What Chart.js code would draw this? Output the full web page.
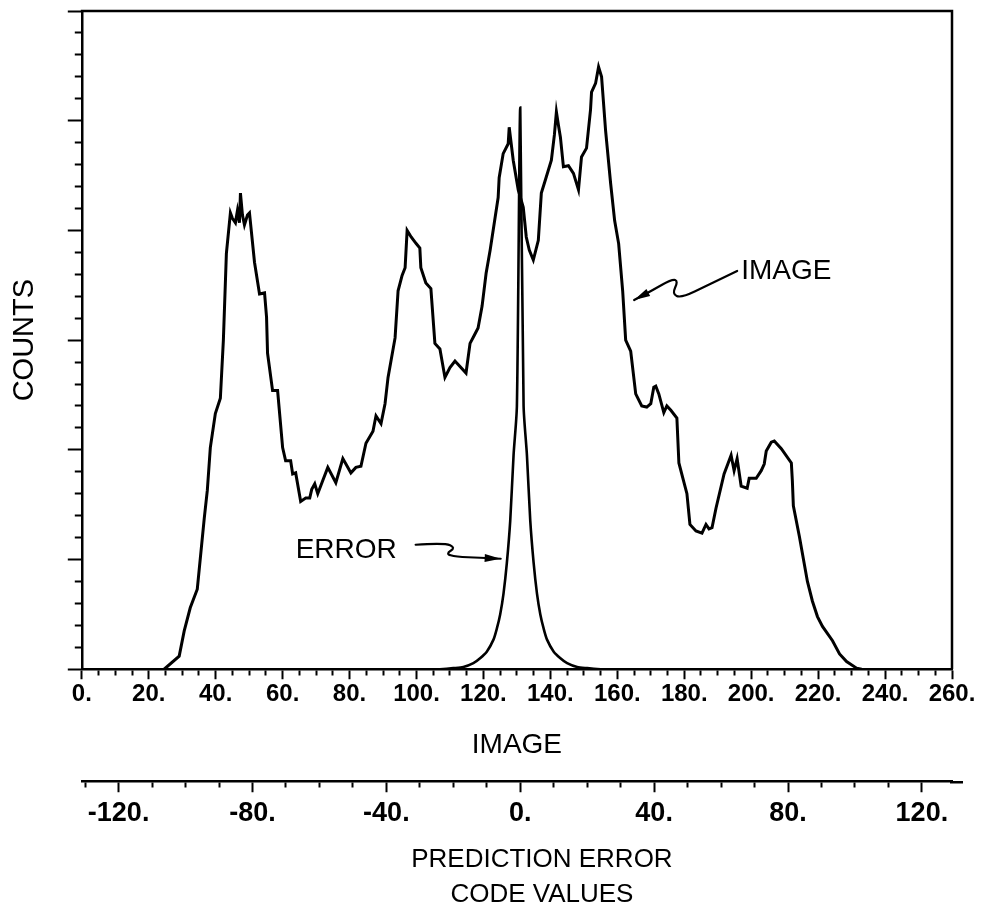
<!DOCTYPE html>
<html><head><meta charset="utf-8">
<script src="https://cdn.jsdelivr.net/npm/chart.js@4/dist/chart.umd.min.js"></script>
<style>html,body{margin:0;padding:0;background:#fff;}canvas{display:block;}</style>
</head><body>
<canvas id="c" width="984" height="915"></canvas>
<script>
// IMAGE histogram: code value vs counts (counts in arbitrary units, 100 per major tick)
const imageValues = [24.6,29.1,30.6,32.4,34.5,36.6,37.5,38.4,39.9,41.4,42.3,43.2,44.4,45.0,45.9,46.5,47.1,47.4,48.0,48.6,49.5,50.1,51.6,53.1,54.6,55.2,55.5,57.0,58.5,60.0,60.9,62.4,63.0,63.9,65.4,66.9,68.1,68.7,69.6,70.5,72.0,73.5,75.9,78.0,79.5,80.4,81.9,83.4,84.9,87.0,87.9,89.4,90.6,91.5,93.6,94.5,95.7,96.6,97.2,98.4,99.9,101.0,101.3,102.8,104.3,105.5,107.0,108.5,110.0,111.5,113.0,114.8,116.0,117.2,118.4,119.6,120.8,122.0,123.5,124.4,124.7,125.9,127.4,127.7,128.9,130.4,131.9,132.8,133.7,134.9,136.4,137.3,138.5,140.3,141.2,141.8,142.4,143.0,143.9,145.4,146.9,148.4,149.3,150.8,152.0,152.3,153.5,154.4,155.3,156.5,158.0,159.2,160.4,161.6,162.5,164.0,165.5,167.3,168.8,170.0,170.9,171.5,172.4,173.9,174.8,176.0,177.8,178.4,179.6,180.8,181.7,183.5,185.3,186.5,187.4,188.3,189.5,191.9,194.0,194.9,195.8,197.0,198.8,199.4,201.5,203.0,203.9,204.5,206.0,206.9,209.0,212.0,212.3,212.6,214.4,216.8,218.3,219.8,221.3,224.3,226.4,228.5,231.5,233.0];
const imageCounts = [0,12,35,56,73,138,163,202,233,247,300,379,416,411,407,418,407,434,414,405,414,416,371,342,343,321,288,254,254,202,190,190,178,179,153,156,156,164,169,160,172,184,170,192,184,179,184,185,206,217,231,224,242,266,302,345,359,366,400,394,388,384,366,352,347,297,292,266,275,281,276,270,297,304,311,331,361,382,412,430,448,470,479,494,464,437,421,394,382,373,391,434,446,464,487,508,496,485,458,459,452,437,467,475,510,526,534,549,540,491,443,409,388,345,300,290,251,240,239,242,257,258,251,234,240,236,229,188,174,160,132,126,124,132,128,129,147,178,195,181,192,167,165,174,174,181,187,199,207,208,201,188,172,149,121,80,62,48,39,26,14,7,1,0];

// ERROR histogram: prediction error code value vs counts
const errorValues = [-24,-20,-17,-14,-12,-10,-8,-7,-6,-5,-4,-3,-2,-1,0,1,2,3,4,5,6,7,8,10,12,14,17,20,24];
const errorCounts = [0,1,2,5.5,10,16,27,37,50,69,97,135,195,240,512,240,195,135,97,69,50,37,27,16,10,5.5,2,1,0];

// Axis ranges / tick steps
const imageRange = [0, 260];
const imageMinorStep = 5, imageMajorStep = 20;
const errorRange = [-131, 129];
const errorMinorStep = 10, errorMajorStep = 40;
const countRange = [0, 600];
const countMinorStep = 20, countMajorStep = 100;
const errorTitle = ['PREDICTION ERROR', 'CODE VALUES'];

// Annotation labels (anchors in data units)
const imageLabel = {text: 'IMAGE', x: 197, y: 363};
const errorLabel = {text: 'ERROR', x: 63.9, y: 108};

const tickFont = "'Liberation Sans', Arial, sans-serif";
const titleFont = "'Liberation Sans', Arial, sans-serif";
const isMult = (v, s) => Math.abs(v / s - Math.round(v / s)) < 1e-6;
function stepTicks(lo, hi, step) {
  const out = [];
  for (let v = Math.ceil(lo / step) * step; v <= hi + 1e-9; v += step) out.push({value: v});
  return out;
}

function squiggle(ctx, x0, y0, pts) {
  ctx.beginPath();
  ctx.moveTo(x0 + pts[0][0], y0 + pts[0][1]);
  for (let i = 1; i < pts.length - 1; i++) {
    const mx = (pts[i][0] + pts[i + 1][0]) / 2, my = (pts[i][1] + pts[i + 1][1]) / 2;
    ctx.quadraticCurveTo(x0 + pts[i][0], y0 + pts[i][1], x0 + mx, y0 + my);
  }
  const last = pts[pts.length - 1], prev = pts[pts.length - 2];
  ctx.lineTo(x0 + last[0], y0 + last[1]);
  ctx.stroke();
  const ang = Math.atan2(last[1] - prev[1], last[0] - prev[0]);
  const L = 16, W = 4;
  const tx = x0 + last[0], ty = y0 + last[1];
  ctx.beginPath();
  ctx.moveTo(tx, ty);
  ctx.lineTo(tx - L * Math.cos(ang) + W * Math.sin(ang), ty - L * Math.sin(ang) - W * Math.cos(ang));
  ctx.lineTo(tx - L * Math.cos(ang) - W * Math.sin(ang), ty - L * Math.sin(ang) + W * Math.cos(ang));
  ctx.closePath();
  ctx.fill();
}

const framePlugin = {
  id: 'frame',
  afterDraw(chart) {
    const {ctx, chartArea: {left, right, top, bottom}, scales} = chart;
    ctx.save();
    ctx.strokeStyle = '#000';
    ctx.fillStyle = '#000';
    ctx.lineWidth = 2.5;
    ctx.beginPath();
    ctx.moveTo(left - 1, top);
    ctx.lineTo(right, top);
    ctx.lineTo(right, bottom);
    ctx.stroke();
    // extend error axis line a little to the right
    const x2 = scales.x2;
    ctx.beginPath();
    ctx.moveTo(x2.right - 2, x2.top + 1);
    ctx.lineTo(x2.right + 11, x2.top + 1);
    ctx.stroke();
    // error-axis title (drawn offset to the right like the original)
    ctx.font = "26px " + titleFont;
    ctx.textAlign = 'center';
    ctx.textBaseline = 'middle';
    const tcx = (x2.left + x2.right) / 2 + 25;
    const lh = 26 * 1.35;
    const tBottom = x2.bottom - 3;
    errorTitle.forEach((t, i) => {
      ctx.fillText(t, tcx, tBottom - lh * (errorTitle.length - i - 0.5));
    });
    // annotations
    ctx.font = "28px " + titleFont;
    ctx.textAlign = 'left';
    const ix = scales.x.getPixelForValue(imageLabel.x), iy = scales.y.getPixelForValue(imageLabel.y);
    ctx.fillText(imageLabel.text, ix, iy);
    ctx.lineWidth = 2.2;
    ctx.lineJoin = 'round';
    ctx.lineCap = 'round';
    squiggle(ctx, ix, iy, [[-4,0],[-33,14],[-60,27],[-69,23],[-63,10],[-69,8],[-90,20],[-107,29]]);
    const ex = scales.x.getPixelForValue(errorLabel.x), ey = scales.y.getPixelForValue(errorLabel.y);
    ctx.fillText(errorLabel.text, ex, ey);
    squiggle(ctx, ex, ey, [[120,-6],[149,-8],[160,-3],[150,3],[160,6],[185,7],[205,8]]);
    ctx.restore();
  }
};

new Chart(document.getElementById('c'), {
  type: 'line',
  data: {
    datasets: [
      {label: 'IMAGE', data: imageValues.map((v, i) => ({x: v, y: imageCounts[i]})),
       xAxisID: 'x', yAxisID: 'y', borderColor: '#000', borderWidth: 3, pointRadius: 0, tension: 0, fill: false},
      {label: 'ERROR', data: errorValues.map((v, i) => ({x: v, y: errorCounts[i]})),
       xAxisID: 'x2', yAxisID: 'y', borderColor: '#000', borderWidth: 2.6, pointRadius: 0, tension: 0.25, fill: false}
    ]
  },
  options: {
    responsive: false,
    animation: false,
    devicePixelRatio: 1,
    layout: {padding: {left: 8, right: 32, top: 11, bottom: 0}},
    plugins: {legend: {display: false}, tooltip: {enabled: false}},
    scales: {
      x: {
        type: 'linear', position: 'bottom', min: imageRange[0], max: imageRange[1],
        afterBuildTicks: s => { s.ticks = stepTicks(imageRange[0], imageRange[1], imageMinorStep); },
        ticks: {autoSkip: false, maxRotation: 0, padding: 1, color: '#000',
          font: {family: tickFont, size: 24, weight: 'bold', lineHeight: 1.2},
          callback: v => isMult(v, imageMajorStep) ? v + '.' : ''},
        grid: {drawOnChartArea: false, drawTicks: true, tickLength: 10, tickColor: '#000', tickWidth: 2,
          tickBorderDash: c => (c.tick && isMult(c.tick.value, imageMajorStep)) ? [] : [5, 40]},
        border: {display: true, color: '#000', width: 2.5},
        title: {display: true, text: 'IMAGE', color: '#000', font: {family: titleFont, size: 28, lineHeight: 1.2}, padding: {top: 18.4, bottom: 19.2}}
      },
      x2: {
        type: 'linear', position: 'bottom', min: errorRange[0], max: errorRange[1],
        afterBuildTicks: s => { s.ticks = stepTicks(errorRange[0], errorRange[1], errorMinorStep); },
        ticks: {autoSkip: false, maxRotation: 0, padding: 5, color: '#000',
          font: {family: tickFont, size: 27, weight: 'bold', lineHeight: 1.2},
          callback: v => isMult(v, errorMajorStep) ? v + '.' : ''},
        grid: {drawOnChartArea: false, drawTicks: true, tickLength: 11, tickColor: '#000', tickWidth: 2,
          tickBorderDash: c => (c.tick && isMult(c.tick.value, errorMajorStep)) ? [] : [5, 40]},
        border: {display: true, color: '#000', width: 2.5},
        title: {display: true, text: errorTitle, color: 'rgba(0,0,0,0)',
          font: {family: titleFont, size: 26, lineHeight: 1.35}, padding: {top: 5.8, bottom: 4.35}}
      },
      y: {
        type: 'linear', position: 'left', min: countRange[0], max: countRange[1],
        afterBuildTicks: s => { s.ticks = stepTicks(countRange[0], countRange[1], countMinorStep); },
        ticks: {display: false},
        grid: {drawOnChartArea: false, drawTicks: true, tickLength: 14, tickColor: '#000', tickWidth: 2,
          tickBorderDash: c => (c.tick && isMult(c.tick.value, countMajorStep)) ? [] : [0, 7, 40]},
        border: {display: true, color: '#000', width: 2.5},
        title: {display: true, text: 'COUNTS', color: '#000', font: {family: titleFont, size: 29}, padding: {top: 0, bottom: 25}}
      }
    }
  },
  plugins: [framePlugin]
});
</script>
</body></html>
